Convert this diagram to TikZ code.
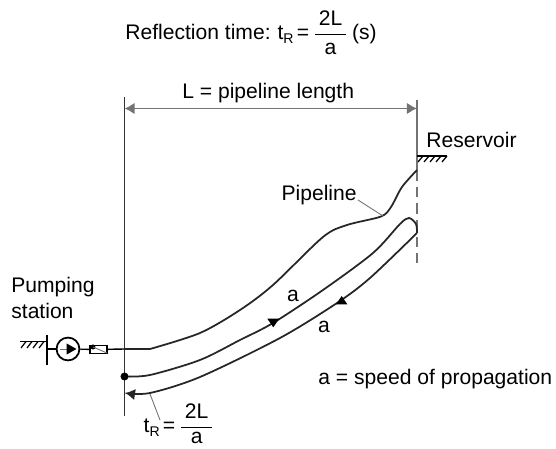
\documentclass[tikz,border=0pt]{standalone}
\usepackage{amsmath}
\usepackage{fontspec}
\setmainfont{Liberation Sans}
\usetikzlibrary{arrows.meta,positioning}
\newcommand{\reftime}[1]{\hspace{-1.5pt}t$_{\text{R}}$\hspace{-2pt} = \hspace{-1pt}$\dfrac{\text{\,2L\,}}{\raisebox{#1}{a}}$}
\tikzset{
  lab/.style={anchor=base west,inner sep=0pt,font=\fontsize{12}{14.8}\selectfont},
  pipe/.style={line width=1pt,black!85},
  guide/.style={line width=0.9pt,black!55},
  leader/.style={line width=0.5pt,black!55},
  tip/.style={-{Latex[length=5.7pt,width=6.5pt]}}
}
\begin{document}
\begin{tikzpicture}[x=0.02cm,y=-0.02cm]
\useasboundingbox (0,0) rectangle (556,449);
% texts
\node[lab] (refl) at (125,40) {Reflection time:\hspace{1pt} \reftime{0pt}\hspace{-1pt} (s)};
\node[lab] (len) at (182,99) {L = pipeline length};
\node[lab] (res) at (426,148) {Reservoir};
\node[lab,anchor=base east] (pl) at (357,201) {Pipeline};
\node[lab,align=left] (stat) at (11,319) {Pumping\\station};
\node[lab] (speed) at (318,385) {a = speed of propagation};
\node[lab,anchor=base] (aup) at (293,302) {a};
\node[lab,anchor=base] (adn) at (324,333) {a};
\node[lab] (tr) at (146,433) {\reftime{2pt}};
% verticals and length
\coordinate (lt) at (124.5,97);
\coordinate (lb) at (124.5,416);
\coordinate (rt) at (417,100);
\coordinate (rm) at (417,170);
\coordinate (rb) at (417,263);
\draw[line width=1pt,black!80] (lt)--(lb);
\draw[guide] (rt)--(rm);
\draw[guide,dash pattern=on 6pt off 3.5pt] (rm)--(rb);
\coordinate (dl) at (124.5,108.5);
\coordinate (dr) at (417,108.5);
\draw[guide,{Latex[length=5.7pt,width=6.5pt]}-{Latex[length=5.7pt,width=6.5pt]}] (dl)--(dr);
% reservoir ground
\draw[line width=0.7pt] (417,156)--(447,156);
\foreach \x in {423,429,435,441,447}{
  \draw[line width=0.7pt] (\x,156)--(\x-5,162);}
% pipeline and waves
\draw[pipe] (124.5,349)--(150,349) plot[smooth,tension=0.5] coordinates {(150,349) (200,333) (240,310) (273,285) (323,237) (347,225) (381,216.5) (391,207) (402,187) (417,170)};
\draw[pipe] plot[smooth,tension=0.5] coordinates {(124.5,376.5) (150,375) (200,360) (240,340) (273,323) (323,290) (373,253) (400,224) (409,218) (416,224) (417,233)};
\draw[pipe,tip] plot[smooth,tension=0.5] coordinates {(417,233) (370,278) (337,303) (280,338) (200,377) (150,393) (125,393)};
\fill (124.5,376.5) circle (4);
\fill (267.3,318.7)--(279.3,318.7)--(273.3,327.3)--cycle;
\fill (336,304.3)--(347.3,304.3)--(341.7,296)--cycle;
% leaders
\draw[leader] (150,394)--(160,420);
\draw[leader] (358,200)--(383,216);
% pump station
\draw[line width=0.7pt] (20,341.5)--(47,341.5);
\foreach \x in {26,32,38,44}{
  \draw[line width=0.7pt] (\x,341.5)--(\x-5,348);}
\draw[line width=1pt] (47,335)--(47,365);
\draw[line width=0.8pt] (47,349)--(56.5,349);
\node[circle,draw,line width=1pt,minimum size=13pt,inner sep=0pt] (pump) at (68,349) {};
\draw[leader] (60,349)--(67,349);
\fill (66.7,343.5)--(76.5,349)--(66.7,354.5)--cycle;
\node[draw,line width=0.6pt,minimum width=9.7pt,minimum height=4.6pt,inner sep=0pt] (valve) at (98.5,349.5) {};
\draw[line width=0.8pt] (pump)--(valve);
\draw[line width=0.8pt] (valve)--(124.5,349);
\fill (93,347) circle (2.5);
\draw[leader] (93,347)--(107,353);
\end{tikzpicture}
\end{document}
